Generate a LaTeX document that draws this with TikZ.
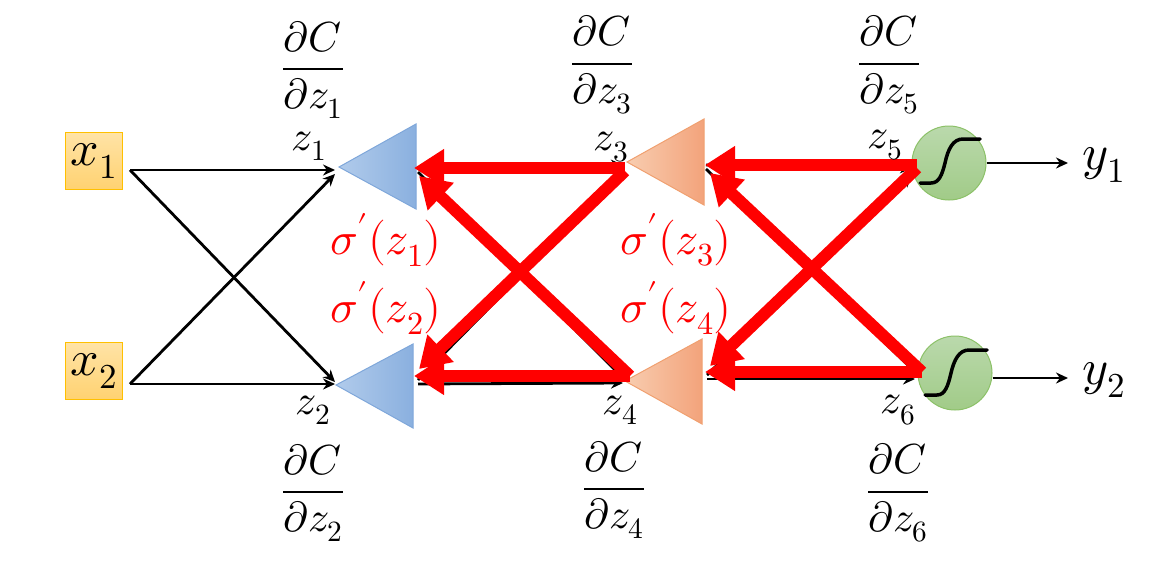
\documentclass[tikz,border=0pt]{standalone}
\usepackage{amsmath}
\usepackage{unicode-math}
\usetikzlibrary{arrows.meta}
\definecolor{boxfillA}{HTML}{FFE3A6}
\definecolor{boxfillB}{HTML}{FFD271}
\definecolor{boxline}{HTML}{FFC000}
\definecolor{blueA}{HTML}{B1CBEB}
\definecolor{blueB}{HTML}{8AB0DF}
\definecolor{blueline}{HTML}{7FA7DA}
\definecolor{orA}{HTML}{F8CDB0}
\definecolor{orB}{HTML}{F3A37B}
\definecolor{orline}{HTML}{F0A070}
\definecolor{grA}{HTML}{BAD9AC}
\definecolor{grB}{HTML}{A1CB88}
\definecolor{grline}{HTML}{8CC168}
\definecolor{myred}{HTML}{FF0000}
\tikzset{
  inbox/.style={draw=boxline, line width=1pt, top color=boxfillA, bottom color=boxfillB, minimum width=57, minimum height=57, inner sep=0pt, font=\fontsize{50}{54}\selectfont},
  neuron/.style={circle, draw=grline, line width=1pt, top color=grA, bottom color=grB, minimum size=74, inner sep=0pt},
  blk/.style={line width=2.8pt, -{Stealth[length=12pt, width=11pt]}},
  back/.style={draw=myred, line width=12pt, -{Triangle[length=30pt, width=36pt]}},
  zlab/.style={font=\fontsize{42}{46}\selectfont, inner sep=0pt},
  frac/.style={font=\fontsize{42}{46}\selectfont, inner sep=0pt},
  sig/.style={font=\fontsize{46}{50}\selectfont, text=myred, inner sep=0pt},
  outlab/.style={font=\fontsize{50}{54}\selectfont, inner sep=0pt},
  sigmoid/.style={line width=3.5pt, line cap=round}
}
\begin{document}
\begin{tikzpicture}[x=1pt, y=-1pt]
\useasboundingbox (0,0) rectangle (1167,560);
% input boxes
\node[inbox] (x1) at (94,161) {$x_1$};
\node[inbox] (x2) at (94,371) {$x_2$};
% triangles
\shade[left color=blueA, right color=blueB, draw=blueline, line width=1pt] (339,167) -- (416,124) -- (416,209) -- cycle;
\shade[left color=blueA, right color=blueB, draw=blueline, line width=1pt] (336,385) -- (413,344) -- (413,428) -- cycle;
\shade[left color=orA, right color=orB, draw=orline, line width=1pt] (627,162) -- (704,119) -- (704,205) -- cycle;
\shade[left color=orA, right color=orB, draw=orline, line width=1pt] (625,381) -- (702,339) -- (702,424) -- cycle;
% coordinates on triangles
\coordinate (t1in1) at (335,170);
\coordinate (t1in2) at (335,174);
\coordinate (t2in1) at (335,382);
\coordinate (t2in2) at (335,384);
\coordinate (t1out) at (418,168);
\coordinate (t1outb) at (418,172);
\coordinate (t2out) at (418,380);
\coordinate (t2outb) at (418,384);
\coordinate (t3in1) at (623,165);
\coordinate (t3in2) at (623,172);
\coordinate (t4in1) at (623,378);
\coordinate (t4in2) at (623,383);
\coordinate (t3out) at (706,165);
\coordinate (t3outb) at (706,169);
\coordinate (t4out) at (707,375);
\coordinate (t4outb) at (707,379);
\coordinate (x1out) at (130,170);
\coordinate (x2out) at (130,384);
% neurons
\node[neuron] (c5) at (949,163) {};
\node[neuron] (c6) at (955,373) {};
\draw[sigmoid, shift={(c5.center)}] (-29,20) -- (-18,20) .. controls (-10,20) and (-7,12) .. (-4,0) .. controls (-1,-14) and (4,-24) .. (14,-24) -- (31,-24);
\draw[sigmoid, shift={(c6.center)}] (-30,22) -- (-18,22) .. controls (-10,22) and (-7,13) .. (-4,0) .. controls (-1,-13) and (4,-23) .. (14,-23) -- (32,-23);
\coordinate (c5in1) at (912,168);
\coordinate (c5in2) at (912,175);
\coordinate (c6in1) at (915,372);
\coordinate (c6in2) at (915,379);
% black forward arrows
\draw[blk] (x1out) -- (t1in1);
\draw[blk] (x1out) -- (t2in1);
\draw[blk] (x2out) -- (t1in2);
\draw[blk] (x2out) -- (t2in2);
\draw[blk] (t1out) -- (t3in1);
\draw[blk] (t1outb) -- (t4in1);
\draw[blk] (t2out) -- (t3in2);
\draw[blk] (t2outb) -- (t4in2);
\draw[blk] (t3out) -- (c5in1);
\draw[blk] (t3outb) -- (c6in1);
\draw[blk] (t4out) -- (c5in2);
\draw[blk] (t4outb) -- (c6in2);
% outputs
\node[outlab] (y1) at (1104,165) {$y_1$};
\node[outlab] (y2) at (1104,380) {$y_2$};
\coordinate (o1) at (1068,163);
\coordinate (o2) at (1068,378);
\draw[blk] (c5.east) -- (o1);
\draw[blk] (c6.east |- o2) -- (o2);
% red backward arrows
\coordinate (r3a) at (625,168);
\coordinate (r3b) at (625,171);
\coordinate (r4a) at (630,376);
\coordinate (r1a) at (414,168);
\coordinate (r1b) at (419,176);
\coordinate (r2a) at (414,376);
\coordinate (r2b) at (419,369);
\draw[back] (r3a) -- (r1a);
\draw[back] (r3b) -- (r2b);
\draw[back] (r4a) -- (r1b);
\draw[back] (r4a) -- (r2a);
\coordinate (r5a) at (917,165);
\coordinate (r5b) at (917,168);
\coordinate (r6a) at (922,372);
\coordinate (r3c) at (705,165);
\coordinate (r3d) at (710,173);
\coordinate (r4c) at (705,372);
\coordinate (r4d) at (710,366);
\draw[back] (r5a) -- (r3c);
\draw[back] (r5b) -- (r4d);
\draw[back] (r6a) -- (r3d);
\draw[back] (r6a) -- (r4c);
% z labels
\node[zlab] (z1) at (309,146) {$z_1$};
\node[zlab] (z2) at (313,410) {$z_2$};
\node[zlab] (z3) at (611,147) {$z_3$};
\node[zlab] (z4) at (620,410) {$z_4$};
\node[zlab] (z5) at (885,145) {$z_5$};
\node[zlab] (z6) at (898,410) {$z_6$};
% fractions
\node[frac] (d1) at (313,70) {$\dfrac{\partial C}{\partial z_1}$};
\node[frac] (d3) at (602,65) {$\dfrac{\partial C}{\partial z_3}$};
\node[frac] (d5) at (889,65) {$\dfrac{\partial C}{\partial z_5}$};
\node[frac] (d2) at (313,493) {$\dfrac{\partial C}{\partial z_2}$};
\node[frac] (d4) at (614,490) {$\dfrac{\partial C}{\partial z_4}$};
\node[frac] (d6) at (898,493) {$\dfrac{\partial C}{\partial z_6}$};
% sigma labels
\node[sig] (s1) at (386,240) {$\sigma'(z_1)$};
\node[sig] (s2) at (386,308) {$\sigma'(z_2)$};
\node[sig] (s3) at (676,240) {$\sigma'(z_3)$};
\node[sig] (s4) at (676,308) {$\sigma'(z_4)$};
\end{tikzpicture}
\end{document}
